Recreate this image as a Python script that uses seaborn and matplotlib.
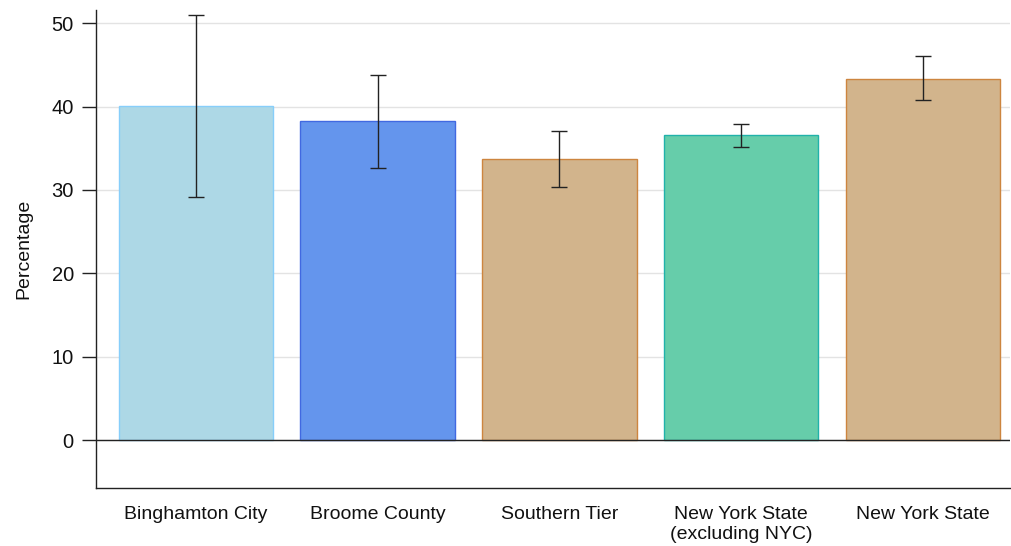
import matplotlib
matplotlib.use("Agg")
import matplotlib.pyplot as plt
import seaborn as sns
import pandas as pd
import numpy as np

# Data
categories = ["Binghamton City", "Broome County", "Southern Tier",
              "New York State\n(excluding NYC)", "New York State"]
values = [40.1, 38.3, 33.7, 36.6, 43.3]
ci_low = [29.2, 32.6, 30.3, 35.2, 40.8]
ci_high = [51.0, 43.8, 37.1, 37.9, 46.1]
fill_colors = ["#ADD8E6", "#6495ED", "#D2B48C", "#66CDAA", "#D2B48C"]
edge_colors = ["#87CEFA", "#4169E1", "#CD853F", "#20B2AA", "#CD853F"]
y_ticks = [0, 10, 20, 30, 40, 50]

sns.set_style("white")
plt.rcParams["font.family"] = ["Liberation Sans", "DejaVu Sans"]
plt.rcParams["text.color"] = "#111111"
plt.rcParams["axes.labelcolor"] = "#111111"
plt.rcParams["xtick.color"] = "#111111"
plt.rcParams["ytick.color"] = "#111111"

df = pd.DataFrame({"category": categories, "value": values})

fig, ax = plt.subplots(figsize=(10.11, 5.46), dpi=100)
fig.subplots_adjust(left=0.095, right=0.999, top=0.982, bottom=0.107)

sns.barplot(data=df, x="category", y="value", hue="category",
            palette=fill_colors, order=categories, hue_order=categories,
            width=0.85, errorbar=None, legend=False, saturation=1,
            ax=ax, zorder=2)

for patch, ec in zip(ax.patches, edge_colors):
    patch.set_edgecolor(ec)
    patch.set_linewidth(1.0)

x_pos = np.arange(len(categories))
vals = np.array(values)
yerr = np.vstack([vals - np.array(ci_low), np.array(ci_high) - vals])
ax.errorbar(x_pos, vals, yerr=yerr, fmt="none", ecolor="#222222",
            elinewidth=1.0, capsize=6, capthick=1.0, zorder=3)

ax.set_ylim(-5.7, 51.6)
ax.set_xlim(-0.55, 4.48)
ax.set_yticks(y_ticks)
ax.yaxis.grid(True, color="#e3e3e3", linewidth=1.0, zorder=0)
ax.set_axisbelow(True)
ax.axhline(0, color="#222222", linewidth=1.0, zorder=4)

for side in ["top", "right"]:
    ax.spines[side].set_visible(False)
for side in ["left", "bottom"]:
    ax.spines[side].set_color("#222222")
    ax.spines[side].set_linewidth(1.0)

ax.tick_params(axis="y", which="major", left=True, length=10, width=1,
               color="#222222", labelsize=14.5, pad=6)
ax.tick_params(axis="x", which="major", bottom=False, labelsize=14, pad=10)

ax.set_xlabel("")
ax.set_ylabel("Percentage", fontsize=14, labelpad=14)

fig.savefig("out.png", dpi=100)
